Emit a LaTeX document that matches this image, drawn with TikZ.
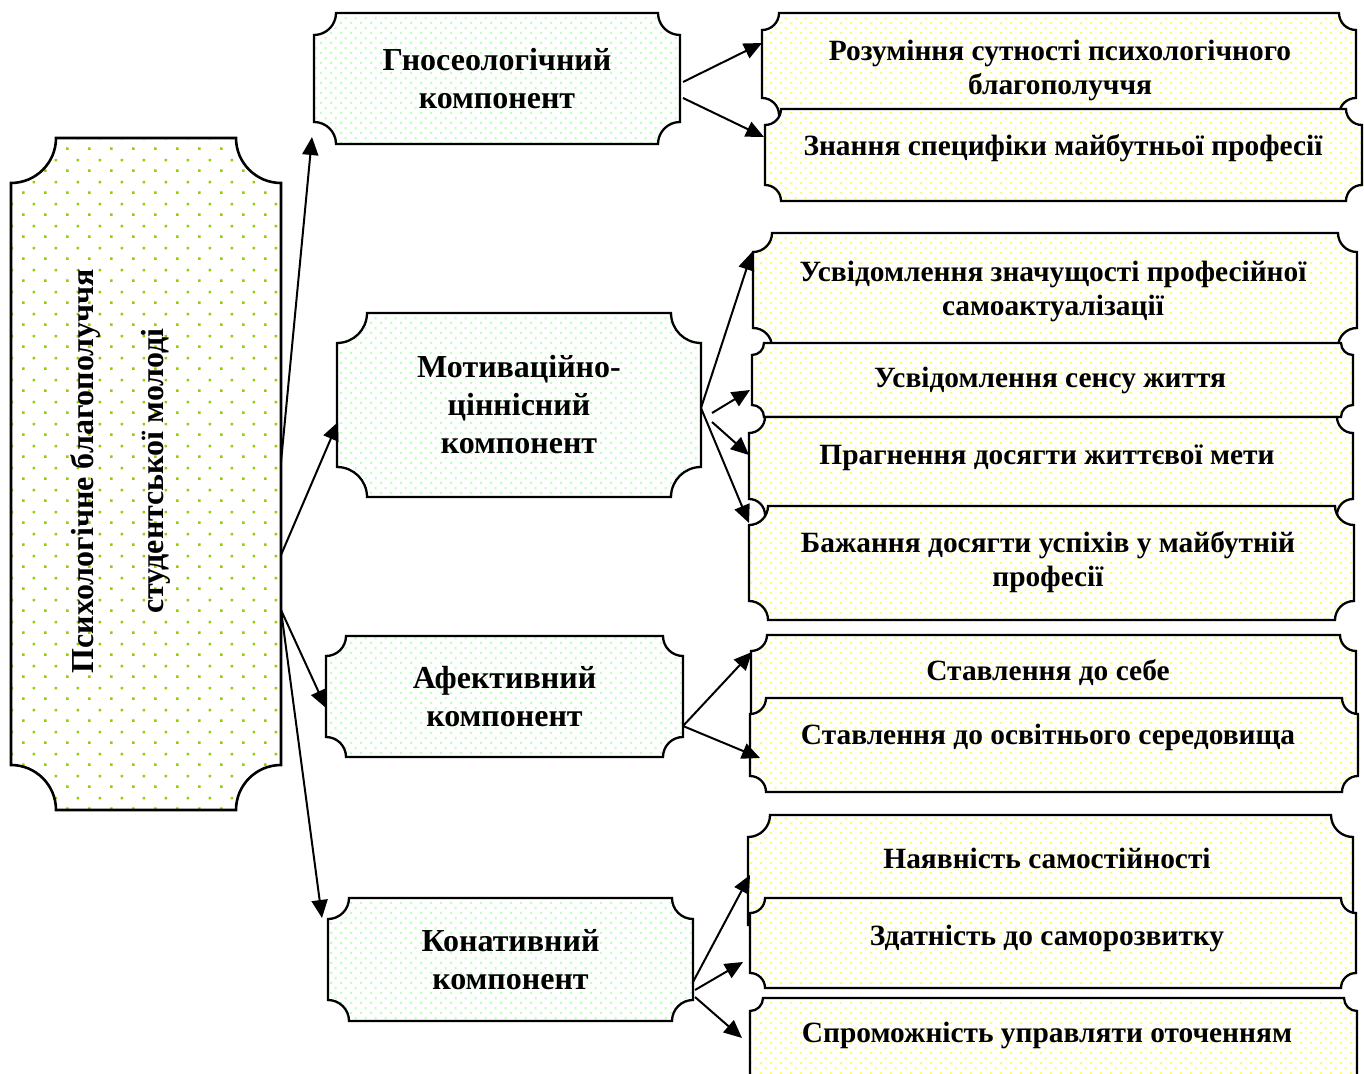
\documentclass[tikz,border=0pt]{standalone}
\usepackage{fontspec}
\setmainfont{Liberation Serif}
\usetikzlibrary{patterns,calc,arrows.meta}
\definecolor{dotgreen}{RGB}{150,205,0}
\definecolor{palegreen}{RGB}{190,255,190}
\definecolor{paleyellow}{RGB}{255,255,110}
\pgfdeclarepatternformonly{bigdots}{\pgfqpoint{0pt}{0pt}}{\pgfqpoint{11pt}{11pt}}{\pgfqpoint{11pt}{11pt}}{%
  \pgfpathrectangle{\pgfqpoint{0pt}{0pt}}{\pgfqpoint{1.4pt}{1.4pt}}%
  \pgfpathrectangle{\pgfqpoint{5.5pt}{5.5pt}}{\pgfqpoint{1.4pt}{1.4pt}}%
  \pgfusepath{fill}}
\pgfdeclarepatternformonly{smalldots}{\pgfqpoint{0pt}{0pt}}{\pgfqpoint{5pt}{5pt}}{\pgfqpoint{5pt}{5pt}}{%
  \pgfpathrectangle{\pgfqpoint{0pt}{0pt}}{\pgfqpoint{1.2pt}{1.2pt}}%
  \pgfpathrectangle{\pgfqpoint{2.5pt}{2.5pt}}{\pgfqpoint{1.2pt}{1.2pt}}%
  \pgfusepath{fill}}
\newcommand{\plaque}[7]{%
  \path[#7] ({#2+#6},#3) -- ({#4-#6},#3)
    .. controls ({#4-#6},{#3+0.5523*#6}) and ({#4-0.5523*#6},{#3+#6}) .. (#4,{#3+#6})
    -- (#4,{#5-#6})
    .. controls ({#4-0.5523*#6},{#5-#6}) and ({#4-#6},{#5-0.5523*#6}) .. ({#4-#6},#5)
    -- ({#2+#6},#5)
    .. controls ({#2+#6},{#5-0.5523*#6}) and ({#2+0.5523*#6},{#5-#6}) .. (#2,{#5-#6})
    -- (#2,{#3+#6})
    .. controls ({#2+0.5523*#6},{#3+#6}) and ({#2+#6},{#3+0.5523*#6}) .. cycle;
  \node[anchorbox, minimum width={(#4-#2)*0.5pt}, minimum height={(#5-#3)*0.5pt}] (#1) at ({(#2+#4)/2},{(#3+#5)/2}) {};
}
\tikzset{
  bigbox/.style={draw, line width=1.3pt, preaction={fill=white}, pattern=bigdots, pattern color=dotgreen},
  compbox/.style={draw, line width=1.15pt, preaction={fill=white}, pattern=smalldots, pattern color=palegreen},
  itembox/.style={draw, line width=1.15pt, preaction={fill=white}, pattern=smalldots, pattern color=paleyellow},
  anchorbox/.style={draw=none, inner sep=0pt, outer sep=0pt, rectangle},
  bigtext/.style={font=\fontsize{16}{35}\selectfont\bfseries, align=center, inner sep=0pt},
  comptext/.style={font=\fontsize{16}{19}\selectfont\bfseries, align=center, inner sep=0pt},
  itemtext/.style={font=\fontsize{14.7}{17}\selectfont\bfseries, align=center, inner sep=0pt},
  arr/.style={line width=1pt, -{Triangle[length=9pt,width=8pt]}},
}
\begin{document}
\begin{tikzpicture}[x=0.5pt,y=-0.5pt]
\useasboundingbox (0,0) rectangle (1364,1074);
\clip (0,0) rectangle (1364,1074);
% left big box
\plaque{L}{11}{138}{281}{810}{45}{bigbox}
\node[bigtext, rotate=90] (Lt) at (120,471) {Психологічне благополуччя\\студентської молоді};
% components
\plaque{G}{314}{13}{680}{144}{22}{compbox}
\node[comptext] (Gt) at (G) {Гносеологічний\\компонент};
\plaque{M}{337}{313}{701}{497}{30}{compbox}
\node[comptext] (Mt) at (M) {Мотиваційно-\\ціннісний\\компонент};
\plaque{A}{326}{636}{683}{757}{20}{compbox}
\node[comptext] (At) at (A) {Афективний\\компонент};
\plaque{K}{328}{898}{693}{1021}{21}{compbox}
\node[comptext] (Kt) at (K) {Конативний\\компонент};
% items
\plaque{R1}{762}{13}{1356}{115}{17}{itembox}
\node[itemtext] (R1t) at (1060,70) {Розуміння сутності психологічного\\благополуччя};
\plaque{R2}{765}{109}{1362}{201}{16}{itembox}
\node[itemtext] (R2t) at (1063,148) {Знання специфіки майбутньої професії};
\plaque{R3}{753}{233}{1357}{347}{19}{itembox}
\node[itemtext] (R3t) at (1053,291) {Усвідомлення значущості професійної\\самоактуалізації};
\plaque{R4}{752}{343}{1353}{417}{12}{itembox}
\node[itemtext] (R4t) at (1050,380) {Усвідомлення сенсу життя};
\plaque{R5}{749}{417}{1353}{515}{16}{itembox}
\node[itemtext] (R5t) at (1047,458) {Прагнення досягти життєвої мети};
\plaque{R6}{749}{506}{1354}{620}{19}{itembox}
\node[itemtext] (R6t) at (1048,562) {Бажання досягти успіхів у майбутній\\професії};
\plaque{R7}{751}{635}{1356}{731}{16}{itembox}
\node[itemtext] (R7t) at (1048,673) {Ставлення до себе};
\plaque{R8}{750}{698}{1358}{792}{16}{itembox}
\node[itemtext] (R8t) at (1048,737) {Ставлення до освітнього середовища};
\plaque{R9}{748}{815}{1353}{947}{22}{itembox}
\node[itemtext] (R9t) at (1047,858) {Наявність самостійності};
\plaque{R10}{750}{898}{1356}{988}{15}{itembox}
\node[itemtext] (R10t) at (1047,938) {Здатність до саморозвитку};
\plaque{R11}{750}{998}{1357}{1092}{13}{itembox}
\node[itemtext] (R11t) at (1047,1035) {Спроможність управляти оточенням};
% arrows from left box
\draw[arr] ($(L.east)+(0,-12)$) -- ($(G.south west)+(-2,-7)$);
\draw[arr] ($(L.east)+(0,81)$) -- ($(M.west)+(1,17)$);
\draw[arr] ($(L.east)+(0,136)$) -- ($(A.west)+(0,11.5)$);
\draw[arr] ($(L.east)+(0,136)$) -- ($(K.north west)+(-6,20)$);
% gnoseological
\draw[arr] ($(G.east)+(3,3.5)$) -- ($(R1.west)+(0,-21)$);
\draw[arr] ($(G.east)+(3,19.5)$) -- ($(R2.west)+(-1,-18)$);
% motivational
\draw[arr] ($(M.east)+(0,3)$) -- ($(R3.west)+(-1,-38)$);
\draw[arr] ($(M.east)+(11,8)$) -- ($(R4.west)+(-2,10)$);
\draw[arr] ($(M.east)+(11,17)$) -- ($(R5.west)+(0,-11)$);
\draw[arr] ($(M.east)+(0,3)$) -- ($(R6.west)+(0,-40)$);
% affective
\draw[arr] ($(A.east)+(0,29.5)$) -- ($(R7.west)+(1,-31)$);
\draw[arr] ($(A.east)+(0,29.5)$) -- ($(R8.west)+(10,13)$);
% conative
\draw[arr] ($(K.east)+(0,22.5)$) -- ($(R9.west)+(2,-6)$);
\draw[arr] ($(K.east)+(2,30.5)$) -- ($(R10.west)+(-7,19)$);
\draw[arr] ($(K.east)+(2,37.5)$) -- ($(R11.west)+(-8,-7)$);
\end{tikzpicture}
\end{document}
